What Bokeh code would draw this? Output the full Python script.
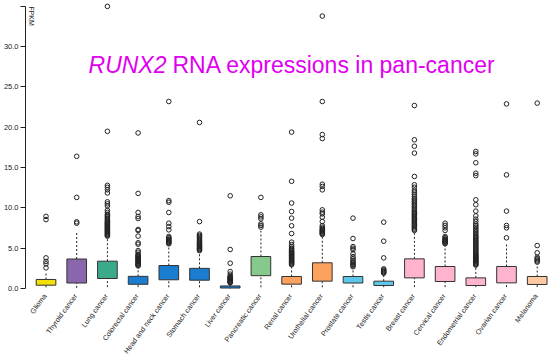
import math
from bokeh.plotting import figure
from bokeh.models import ColumnDataSource, Range1d, FixedTicker, Label, LabelSet
from bokeh.core.properties import value
from bokeh.embed import file_html
from bokeh.resources import INLINE

categories = ["Glioma", "Thyroid cancer", "Lung cancer", "Colorectal cancer",
              "Head and neck cancer", "Stomach cancer", "Liver cancer",
              "Pancreatic cancer", "Renal cancer", "Urothelial cancer",
              "Prostate cancer", "Testis cancer", "Breast cancer",
              "Cervical cancer", "Endometrial cancer", "Ovarian cancer", "Melanoma"]

q1 = [0.41, 0.68, 1.24, 0.52, 1.08, 1.03, 0.06, 1.59, 0.54, 0.91, 0.68, 0.37, 1.32, 0.87, 0.37, 0.70, 0.50]
median = [0.74, 2.36, 2.15, 0.99, 1.86, 1.67, 0.16, 2.71, 1.07, 1.74, 1.16, 0.66, 2.36, 1.61, 0.74, 1.49, 0.91]
q3 = [1.12, 3.66, 3.39, 1.51, 2.85, 2.50, 0.32, 3.97, 1.49, 3.19, 1.49, 0.91, 3.68, 2.73, 1.32, 2.73, 1.49]
whisker_low = [0.15, 0.08, 0.17, 0.17, 0.15, 0.15, 0.0, 0.15, 0.15, 0.15, 0.15, 0.17, 0.17, 0.17, 0.17, 0.17, 0.17]
whisker_high = [2.1, 6.95, 6.41, 2.65, 5.46, 4.5, 0.62, 7.15, 2.85, 6.62, 2.56, 1.70, 7.07, 5.42, 2.77, 5.71, 2.94]

box_colors = ["#F3DF0A", "#8A67AC", "#3BAA8B", "#1A7DCF", "#1A7DCF", "#1A7DCF", "#1A7DCF",
              "#86C98C", "#FDA25E", "#FDA25E", "#5EC6E8", "#5EC6E8", "#FFB3CF",
              "#FFB3CF", "#FFB3CF", "#FFB3CF", "#FCC9A2"]

out_glioma = [2.56, 3.06, 3.35, 3.8, 8.55, 8.95]
out_thyroid = [8.1, 8.27, 11.3, 16.4]
out_lung = [6.5, 6.6, 6.7, 6.8, 6.9, 7.0, 7.1, 7.2, 7.3, 7.4, 7.5, 7.6, 7.7, 7.8, 7.9, 8.0, 8.1,
            8.2, 8.3, 8.45, 8.6, 8.75, 8.9, 9.05, 9.2, 9.45, 9.7, 10.25, 10.5, 10.75, 11.85,
            12.25, 12.55, 12.8, 19.5, 35.0]
out_colorectal = [2.8, 2.9, 3.0, 3.1, 3.2, 3.3, 3.4, 3.5, 3.6, 3.7, 3.8, 3.9, 4.0, 4.1, 4.25,
                  4.5, 4.7, 5.5, 5.67, 6.5, 7.2, 7.32, 8.68, 8.93, 9.43, 11.8, 19.3]
out_headneck = [5.55, 5.65, 5.75, 5.85, 5.95, 6.05, 6.15, 6.3, 6.45, 7.28, 7.69, 8.1, 9.43,
                10.7, 10.9, 23.2]
out_stomach = [4.7, 4.8, 4.9, 5.0, 5.1, 5.2, 5.3, 5.4, 5.5, 5.6, 5.7, 5.85, 6.0, 6.15, 6.3,
               6.45, 6.6, 6.75, 8.3, 20.6]
out_liver = [0.7, 0.78, 0.86, 0.94, 1.02, 1.1, 1.18, 1.26, 1.34, 1.42, 1.5, 1.78, 2.1, 3.14,
             4.84, 11.5]
out_pancreatic = [7.61, 7.82, 8.02, 8.64, 8.89, 9.14, 11.3]
out_renal = [2.95, 3.05, 3.15, 3.25, 3.35, 3.45, 3.55, 3.65, 3.75, 3.85, 3.95, 4.05, 4.15,
             4.25, 4.35, 4.45, 4.55, 4.7, 4.85, 5.0, 5.2, 5.45, 5.75, 6.82, 7.78, 8.73, 9.55,
             10.6, 13.3, 19.4]
out_urothelial = [6.7, 6.8, 6.9, 7.0, 7.1, 7.2, 7.3, 7.45, 7.6, 7.8, 8.31, 8.85, 9.26, 9.47,
                  9.76, 12.24, 12.66, 12.94, 18.6, 19.1, 23.2, 33.8]
out_prostate = [2.7, 2.85, 3.0, 3.15, 3.3, 3.5, 3.7, 3.95, 4.3, 4.8, 5.0, 5.2, 6.2, 8.73]
out_testis = [1.9, 2.0, 2.1, 2.2, 2.3, 2.44, 3.8, 5.87, 8.23]
out_breast = [7.2, 7.35, 7.5, 7.65, 7.8, 7.95, 8.1, 8.25, 8.4, 8.55, 8.7, 8.85, 9.0, 9.15, 9.3,
              9.45, 9.6, 9.8, 10.0, 10.2, 10.4, 10.6, 10.8, 11.0, 11.2, 11.45, 11.7, 11.95,
              12.2, 12.57, 12.87, 13.9, 16.8, 17.65, 18.45, 22.7]
out_cervical = [5.55, 5.65, 5.75, 5.85, 5.95, 6.05, 6.15, 6.3, 6.45, 7.2, 7.53, 7.82, 8.1]
out_endometrial = [2.9, 3.0, 3.1, 3.2, 3.3, 3.4, 3.5, 3.6, 3.7, 3.8, 3.9, 4.0, 4.1, 4.2, 4.35,
                   4.5, 4.65, 4.8, 4.95, 5.1, 5.25, 5.4, 5.55, 5.7, 5.85, 6.0, 6.15, 6.3, 6.45,
                   6.6, 6.8, 7.0, 7.2, 7.4, 7.6, 7.8, 8.0, 8.3, 8.6, 9.0, 9.6, 10.4, 11.0, 14.0,
                   14.3, 15.6, 16.7, 17.0]
out_ovarian = [6.29, 7.53, 7.82, 9.6, 14.1, 22.9]
out_melanoma = [3.27, 3.4, 3.55, 3.7, 3.89, 4.43, 5.33, 23.0]

outliers = [out_glioma, out_thyroid, out_lung, out_colorectal, out_headneck, out_stomach,
            out_liver, out_pancreatic, out_renal, out_urothelial, out_prostate, out_testis,
            out_breast, out_cervical, out_endometrial, out_ovarian, out_melanoma]

y_ticks = [0, 5, 10, 15, 20, 25, 30, 35]

FONT = "Liberation Sans"
BOX_W = 0.64
CAP_W = 0.28

xs = list(range(len(categories)))

p = figure(width=550, height=357, output_backend="svg", toolbar_location=None,
           x_range=Range1d(-0.668, 16.433), y_range=Range1d(-8.56, 35.73),
           min_border_left=25, min_border_right=0, min_border_top=0, min_border_bottom=0)
p.styles = {"margin": "0px"}
p.outline_line_color = None
p.xgrid.visible = False
p.ygrid.visible = False
p.background_fill_color = "white"
p.border_fill_color = "white"

box_src = ColumnDataSource(dict(x=xs, q1=q1, q3=q3, med=median, lo=whisker_low,
                                hi=whisker_high, color=box_colors))

# whiskers
p.segment(x0="x", y0="q3", x1="x", y1="hi", source=box_src, line_color="#222222",
          line_width=1, line_dash="2 2")
p.segment(x0="x", y0="lo", x1="x", y1="q1", source=box_src, line_color="#222222",
          line_width=1, line_dash="2 2")
# caps
p.rect(x="x", y="hi", width=CAP_W, height=0, source=box_src, line_color="#222222",
       line_width=1, fill_color=None)
p.rect(x="x", y="lo", width=CAP_W, height=0, source=box_src, line_color="#222222",
       line_width=1, fill_color=None)
# boxes
p.vbar(x="x", bottom="q1", top="q3", width=BOX_W, source=box_src, fill_color="color",
       line_color="#333333", line_width=1)
# medians
p.rect(x="x", y="med", width=BOX_W, height=0, source=box_src, line_color="#111111",
       line_width=1.4, fill_color=None)

ox, oy = [], []
for i, vals in enumerate(outliers):
    for v in vals:
        ox.append(i)
        oy.append(v)
p.scatter(x=ox, y=oy, size=4.6, marker="circle", fill_color=None, line_color="#222222",
          line_width=1)

# y axis
yax = p.yaxis[0]
yax.ticker = FixedTicker(ticks=y_ticks)
yax.major_label_overrides = {t: ("%.1f" % t if t < 35 else "") for t in y_ticks}
yax.bounds = (0, 35)
yax.major_tick_out = 5
yax.major_tick_in = 0
yax.minor_tick_out = 0
yax.minor_tick_in = 0
yax.major_label_standoff = 2
yax.axis_line_color = "#222222"
yax.major_tick_line_color = "#222222"
yax.major_label_text_font = FONT
yax.major_label_text_font_size = "7.5px"
yax.major_label_text_color = "#222222"

# x axis: hidden, category names drawn as a label set under each box
p.xaxis.visible = False
cat_src = ColumnDataSource(dict(x=xs, y=[0] * len(xs), name=categories))
p.add_layout(LabelSet(x="x", y="y", text="name", source=cat_src, angle=math.radians(54),
                      x_offset=-1, y_offset=-6, text_align="right", text_baseline="middle",
                      text_font=value(FONT), text_font_size=value("7.2px"),
                      text_color="#222222"))

# FPKM label
p.add_layout(Label(x=-0.47, y=35.0, text="FPKM", angle=-math.pi / 2, text_align="left",
                   text_baseline="middle", text_font=FONT, text_font_size="7px",
                   text_color="#222222"))

# title
TITLE_COLOR = "#E000F0"
p.add_layout(Label(x=3.925, y=27.79, text="RUNX2", text_align="right",
                   text_baseline="alphabetic", text_font=FONT, text_font_size="23px",
                   text_font_style="italic", text_color=TITLE_COLOR))
p.add_layout(Label(x=4.12, y=27.79, text="RNA expressions in pan-cancer", text_align="left",
                   text_baseline="alphabetic", text_font=FONT, text_font_size="23px",
                   text_color=TITLE_COLOR))

open("out.html", "w").write(file_html(p, INLINE))
